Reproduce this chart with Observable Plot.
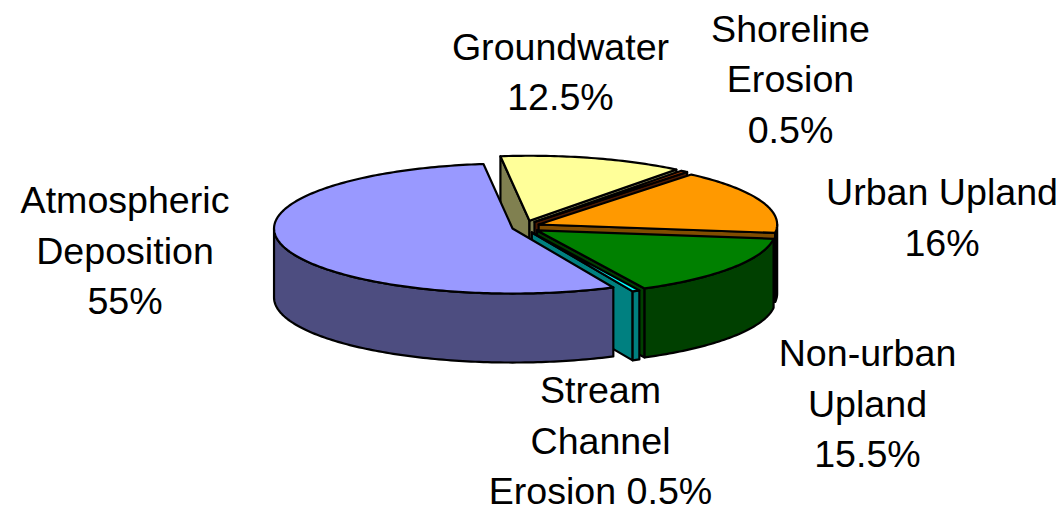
<!DOCTYPE html>
<html>
<head>
<meta charset="utf-8">
<style>
html, body { margin: 0; padding: 0; background: #fff; }
svg { display: block; }
</style>
<script src="https://cdn.jsdelivr.net/npm/d3@7"></script>
<script src="https://cdn.jsdelivr.net/npm/@observablehq/plot@0.6"></script>
</head>
<body>
<div id="chart"></div>
<script>
// Data, clockwise from the first slice
const sources = ["Groundwater", "Shoreline Erosion", "Urban Upland", "Non-urban Upland", "Stream Channel Erosion", "Atmospheric Deposition"];
const shares = [12.5, 0.5, 16, 15.5, 0.5, 55];
const labels = ["Groundwater\n12.5%", "Shoreline\nErosion\n0.5%", "Urban Upland\n16%", "Non-urban\nUpland\n15.5%", "Stream\nChannel\nErosion 0.5%", "Atmospheric\nDeposition\n55%"];
const topColors = ["#FFFF99", "#993300", "#FF9900", "#008000", "#00FFFF", "#9999FF"];
const sideColors = ["#808050", "#4D1A00", "#804D00", "#004000", "#008080", "#4D4D80"];

// Layout of the tilted pie, in page pixels
const W = 1059, H = 508;
const cx = 525.3, cy = 226.3, rx = 238.5, ry = 65, depthPx = 69, explodeXPx = 13.8, explodeYPx = 23;
const firstAngle = -7;
const labelPx = [[560, 68.5], [790, 75.5], [941.5, 214], [867, 400], [600, 437], [124.5, 247]];
const fontSize = 37.6, lineSpacing = 50.5;

// Scales map pie units (radius = 1) to the page
const xDomain = [-1, 1], yDomain = [-1, 1];
const xRange = [cx - rx, cx + rx], yRange = [cy + ry, cy - ry];
const xInv = d3.scaleLinear().domain(xRange).range(xDomain);
const yInv = d3.scaleLinear().domain(yRange).range(yDomain);
const depth = depthPx / ry, explodeX = explodeXPx / rx, explodeY = explodeYPx / rx;
const rad = d => d * Math.PI / 180;

const total = d3.sum(shares);
let acc = firstAngle;
const slices = shares.map((s, i) => {
  const a = acc, b = acc + s / total * 360;
  acc = b;
  const mid = rad((a + b) / 2);
  return { i, a, b, c: [explodeX * Math.sin(mid), explodeY * Math.cos(mid)] };
});

const rim = (s, t, dy = 0) => ({ x: s.c[0] + Math.sin(rad(t)), y: s.c[1] + Math.cos(rad(t)) - dy });
const arc = (s, a, b, dy = 0) => {
  const n = Math.max(2, Math.ceil(Math.abs(b - a)));
  return d3.range(n + 1).map(k => rim(s, a + (b - a) * k / n, dy));
};
const apex = (s, dy = 0) => ({ x: s.c[0], y: s.c[1] - dy });
const poly = (pts, fill) => Plot.line([...pts, pts[0]], {
  x: "x", y: "y", fill, stroke: "#000", strokeWidth: 2.2, strokeLinejoin: "round"
});

const marks = [];
for (const s of slices) {
  const side = sideColors[s.i];
  // flat cut faces that look towards the viewer
  if (Math.sin(rad(s.a)) < 0) marks.push(poly([apex(s), rim(s, s.a), rim(s, s.a, depth), apex(s, depth)], side));
  if (Math.sin(rad(s.b)) > 0) marks.push(poly([apex(s), rim(s, s.b), rim(s, s.b, depth), apex(s, depth)], side));
  // curved outer face: only the front half of the rim
  const from = Math.max(s.a, 90), to = Math.min(s.b, 270);
  if (to > from) marks.push(poly([...arc(s, from, to), ...arc(s, to, from, depth)], side));
  // top face
  marks.push(poly([apex(s), ...arc(s, s.a, s.b)], topColors[s.i]));
}

const labelRows = labels.map((text, i) => ({ text, x: xInv(labelPx[i][0]), y: yInv(labelPx[i][1]) }));
marks.push(Plot.text(labelRows, {
  x: "x", y: "y", text: "text", fontSize, lineHeight: lineSpacing / fontSize,
  textAnchor: "middle", lineAnchor: "middle", fill: "#000"
}));

const chart = Plot.plot({
  width: W, height: H,
  marginTop: 0, marginRight: 0, marginBottom: 0, marginLeft: 0,
  style: { background: "#fff", fontFamily: "'Liberation Sans', Arial, sans-serif" },
  x: { type: "linear", domain: xDomain, range: xRange, axis: null },
  y: { type: "linear", domain: yDomain, range: yRange, axis: null },
  marks
});
document.getElementById("chart").append(chart);
</script>
</body>
</html>
